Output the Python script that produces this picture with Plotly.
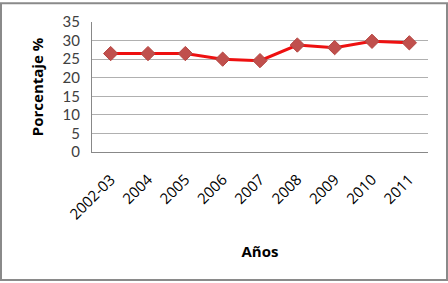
import plotly.graph_objects as go

years = ["2002-03", "2004", "2005", "2006", "2007", "2008", "2009", "2010", "2011"]
values = [26.5, 26.5, 26.5, 25.0, 24.6, 28.8, 28.1, 29.8, 29.4]
y_ticks = [0, 5, 10, 15, 20, 25, 30, 35]

fig = go.Figure()
fig.add_trace(go.Scatter(
    x=years, y=values, mode="lines+markers",
    line=dict(color="#ee1010", width=3),
    marker=dict(symbol="diamond", size=11, color="#c0504d",
                line=dict(color="#b5433f", width=1)),
    showlegend=False,
))

L, R, T, B = 92, 20, 20, 131
W, H = 448, 283
pw, ph = W - L - R, H - T - B

fig.update_layout(
    width=W, height=H,
    margin=dict(l=L, r=R, t=T, b=B),
    paper_bgcolor="white", plot_bgcolor="white",
    xaxis=dict(
        type="category", tickangle=-45,
        tickfont=dict(family="Open Sans, sans-serif", size=15, color="#000000"),
        ticklabelstandoff=12,
        showgrid=False, showline=True, linecolor="#888888", linewidth=1,
        ticks="", range=[-0.5, len(years) - 0.5],
        title=dict(text="<b>Años</b>", font=dict(family="Open Sans, sans-serif", size=15, color="#000"),
                   standoff=24),
    ),
    yaxis=dict(
        range=[0, 35], tickvals=y_ticks,
        tickfont=dict(family="Lato, sans-serif", size=15, color="#404040"),
        ticklabelstandoff=8,
        showgrid=True, gridcolor="#b0b0b0", gridwidth=1,
        showline=True, linecolor="#888888", linewidth=1,
        ticks="", zeroline=False,
        title=dict(text="<b>Porcentaje %</b>", font=dict(family="Open Sans, sans-serif", size=15, color="#000"),
                   standoff=15),
    ),
    shapes=[dict(
        type="rect", xref="paper", yref="paper",
        x0=(1 - L) / pw, x1=(W - 1 - L) / pw,
        y0=-(B - 1) / ph, y1=(H - 1 - B) / ph,
        line=dict(color="#8a8a8a", width=2), fillcolor="rgba(0,0,0,0)", layer="below",
    )],
)

fig.write_html("out.html")
